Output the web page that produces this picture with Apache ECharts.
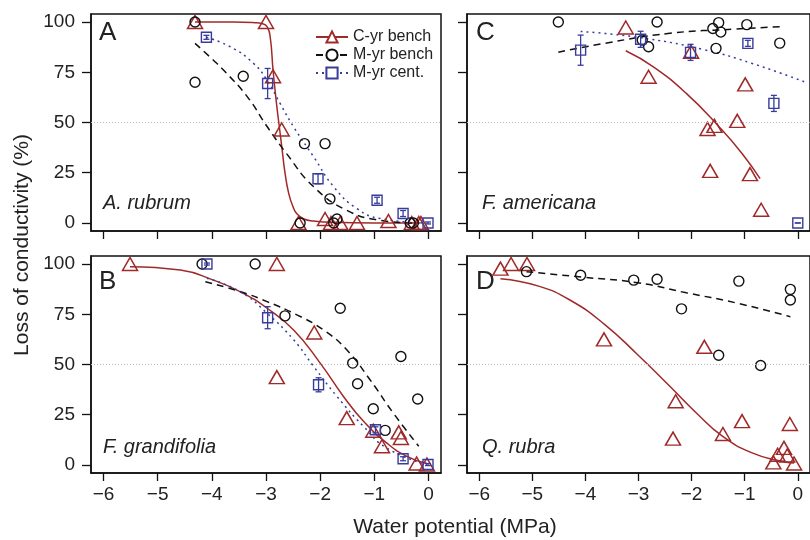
<!DOCTYPE html>
<html>
<head>
<meta charset="utf-8">
<script src="https://cdn.jsdelivr.net/npm/echarts@6/dist/echarts.min.js"></script>
<style>
  html, body { margin: 0; padding: 0; background: #fff; }
  #chart { width: 810px; height: 540px; }
</style>
</head>
<body>
<div id="chart"></div>
<script>
// tick positions
var xTicks = [-6, -5, -4, -3, -2, -1, 0];
var yTicks = [0, 25, 50, 75, 100];

// panel A - A. rubrum
var aCyrPts = [[-4.31, 100], [-3.00, 100], [-2.87, 73], [-2.71, 46.5], [-2.40, 0], [-1.91, 2], [-1.80, 0],
    [-1.63, 0], [-1.32, 0], [-0.74, 1], [-0.31, 0], [-0.18, 0], [-0.14, 0]];
var aMyrPts = [[-4.31, 100], [-4.31, 70], [-3.42, 73], [-2.29, 39.5], [-1.91, 39.5], [-1.82, 12], [-1.69, 2],
    [-2.37, 0], [-1.75, 0], [-0.34, 0], [-0.28, 0]];
var aCentPts = [[-4.10, 92.4, 1], [-2.97, 69.4, 7.5], [-2.04, 22, 2.5], [-0.95, 11.3, 1.5], [-0.47, 4.7, 1.5], [-0.01, 0, 0.5]];
var aCyrFit = [[-4.31, 100], [-3.6, 100], [-3.2, 99.7], [-3.08, 99.3], [-2.98, 97.7], [-2.92, 92], [-2.87, 76],
    [-2.8, 58], [-2.75, 47], [-2.7, 36], [-2.65, 25], [-2.58, 14.6], [-2.5, 8], [-2.43, 4.6], [-2.3, 2],
    [-2.12, 1], [-1.8, 0.3], [-1.0, 0], [-0.15, 0]];
var aMyrFit = [[-4.31, 89.4], [-3.97, 81], [-3.78, 76], [-3.35, 63], [-2.98, 48], [-2.62, 34.5], [-2.12, 18],
    [-1.51, 6.3], [-0.89, 1.3], [-0.28, 0]];
var aCentFit = [[-4.10, 92.4], [-3.66, 87.7], [-3.23, 79.4], [-2.98, 71], [-2.74, 59.5], [-2.49, 47.8],
    [-2.12, 32.9], [-1.75, 18], [-1.32, 7.1], [-0.89, 2.2], [-0.03, 0]];

// panel B - F. grandifolia
var bCyrPts = [[-5.51, 100], [-2.80, 100], [-2.80, 43.7], [-2.11, 65.9], [-1.51, 23.3], [-1.02, 17], [-0.86, 9.3],
    [-0.55, 16.2], [-0.51, 13.4], [-0.22, 0.7], [-0.03, 0.2]];
var bMyrPts = [[-4.18, 100], [-3.20, 100], [-2.65, 74.2], [-1.63, 78], [-1.40, 50.7], [-1.31, 40.4], [-1.02, 28],
    [-0.80, 17.2], [-0.51, 54], [-0.20, 32.8]];
var bCentPts = [[-4.09, 100, 0.5], [-2.97, 73.3, 5.5], [-2.03, 39.9, 3.5], [-0.98, 17.5, 1.5], [-0.47, 3.1, 1], [-0.01, 0.2, 0.5]];
var bCyrFit = [[-5.51, 98.7], [-4.58, 97], [-3.97, 92], [-3.48, 86.3], [-2.98, 78], [-2.49, 67.2], [-2.0, 50.7],
    [-1.57, 34.1], [-1.2, 21.7], [-0.77, 10.9], [-0.40, 4.3], [-0.03, 0.7]];
var bMyrFit = [[-4.12, 91.2], [-3.48, 86.3], [-2.98, 81.3], [-2.43, 74.7], [-1.94, 67.2], [-1.51, 57.3],
    [-1.08, 42.4], [-0.65, 25.8], [-0.18, 9.3]];
var bCentFit = [[-4.09, 92.9], [-3.48, 86.3], [-2.98, 75.5], [-2.49, 62.3], [-2.12, 49], [-1.69, 34.1],
    [-1.2, 19.2], [-0.77, 8.4], [-0.03, 0.2]];

// panel C - F. americana
var cCyrPts = [[-3.24, 97.3], [-2.81, 72.8], [-2.01, 85.2], [-0.99, 69], [-1.14, 50.8], [-1.70, 46.8], [-1.57, 48.3],
    [-1.65, 25.9], [-0.90, 24.3], [-0.69, 6.6]];
var cMyrPts = [[-4.51, 100], [-2.65, 100], [-2.81, 87.7], [-2.93, 91], [-1.60, 96.8], [-1.49, 99.7], [-1.45, 95],
    [-1.54, 86.9], [-0.96, 98.7], [-0.34, 89.5]];
var cCentPts = [[-4.09, 86, 7.5], [-2.96, 91.4, 4], [-2.02, 84.9, 4], [-0.94, 89.4, 1.5], [-0.45, 59.5, 4], [0, 0, 0]];
var cCyrFit = [[-3.24, 85.7], [-2.72, 77.7], [-2.10, 64.5], [-1.48, 47.8], [-1.05, 34.6], [-0.71, 22.1]];
var cMyrFit = [[-4.51, 85], [-3.64, 89.4], [-2.41, 94.4], [-1.17, 96.5], [-0.34, 97.7]];
var cCentFit = [[-4.09, 95.3], [-3.02, 92.4], [-1.79, 86.4], [-0.86, 79.4], [0.12, 70.3]];

// panel D - Q. rubra
var dCyrPts = [[-5.60, 97.7], [-5.40, 100], [-5.10, 100], [-3.65, 62.5], [-2.30, 31.7], [-2.35, 13.1], [-1.76, 58.8],
    [-1.41, 15.4], [-1.05, 21.8], [-0.15, 20.4], [-0.46, 1.3], [-0.38, 5.1], [-0.26, 8.5], [-0.20, 4.7], [-0.07, 0.7]];
var dMyrPts = [[-5.11, 96.2], [-4.09, 94.4], [-3.09, 92], [-2.65, 92.4], [-2.19, 77.7], [-1.49, 54.6], [-1.11, 91.5],
    [-0.70, 49.5], [-0.14, 87.4], [-0.14, 82.1]];
var dCyrFit = [[-5.60, 92.7], [-4.88, 89], [-4.26, 81.6], [-3.64, 70], [-3.02, 55], [-2.41, 39.2], [-1.91, 25.9],
    [-1.42, 14.3], [-0.86, 6], [-0.31, 1.8], [-0.07, 1]];
var dMyrFit = [[-5.11, 96.2], [-4.07, 93.5], [-3.02, 90.7], [-2.1, 85.7], [-1.17, 80.7], [-0.14, 73.8]];

var RED = '#a02a2a';
var BLUE = '#383c9c';
var BLACK = '#111';
var FONT = 'Liberation Sans, Arial, sans-serif';

var chart = echarts.init(document.getElementById('chart'));

var grids = [
    {left: 91, top: 14, width: 350, height: 217},   // A
    {left: 467, top: 14, width: 350, height: 217},  // C
    {left: 91, top: 256, width: 350, height: 217},  // B
    {left: 467, top: 256, width: 350, height: 217}  // D
];

var minus = function (v) {
    return String(v).replace('-', '\u2212');
};

var xAxes = [], yAxes = [];
grids.forEach(function (g, i) {
    g.show = true;
    g.borderColor = BLACK;
    g.borderWidth = 1.5;
    g.backgroundColor = 'transparent';
    xAxes.push({
        type: 'value', gridIndex: i, min: -6.23, max: 0.23,
        axisLine: {show: true, onZero: false, lineStyle: {color: BLACK, width: 1.5}},
        axisTick: {show: true, length: 8, customValues: xTicks, lineStyle: {color: BLACK, width: 1.3}},
        axisLabel: {show: i >= 2, customValues: xTicks, margin: 12, fontSize: 19, color: '#222',
            fontFamily: FONT, formatter: minus},
        splitLine: {show: false}
    });
    yAxes.push({
        type: 'value', gridIndex: i, min: -4, max: 104,
        axisLine: {show: true, onZero: false, lineStyle: {color: BLACK, width: 1.5}},
        axisTick: {show: true, length: 9, customValues: yTicks, lineStyle: {color: BLACK, width: 1.3}},
        axisLabel: {show: i % 2 === 0, customValues: yTicks, margin: 16, fontSize: 19, color: '#222',
            fontFamily: FONT},
        splitLine: {show: false}
    });
});

var halfLine = {
    silent: true, symbol: 'none', label: {show: false},
    lineStyle: {color: '#bbb', type: [1, 2], width: 1},
    data: [{yAxis: 50}]
};

var triStyle = {color: 'rgba(255,255,255,0)', borderColor: RED, borderWidth: 1.5, opacity: 1};
var circStyle = {color: 'rgba(255,255,255,0)', borderColor: BLACK, borderWidth: 1.4, opacity: 1};

var fitLine = function (name, idx, data, color, type, symbol) {
    return {
        name: name, type: 'line', xAxisIndex: idx, yAxisIndex: idx, data: data,
        smooth: 0.5, showSymbol: false, symbol: symbol, symbolSize: 10,
        silent: true, z: 3,
        itemStyle: {color: '#fff', borderColor: color, borderWidth: 1.4},
        lineStyle: {color: color, width: 1.5, type: type}
    };
};

var triPts = function (idx, data) {
    return {
        type: 'scatter', xAxisIndex: idx, yAxisIndex: idx, data: data, symbol: 'triangle',
        symbolSize: [15, 13], itemStyle: triStyle, z: 4, markLine: halfLine
    };
};

var circPts = function (idx, data) {
    return {
        type: 'scatter', xAxisIndex: idx, yAxisIndex: idx, data: data, symbol: 'circle',
        symbolSize: 10, itemStyle: circStyle, z: 4
    };
};

// squares with error bars
var centPts = function (idx, data) {
    return {
        type: 'custom', xAxisIndex: idx, yAxisIndex: idx, data: data, z: 5,
        renderItem: function (params, api) {
            var x = api.value(0), y = api.value(1), e = api.value(2);
            var c = api.coord([x, y]);
            var lo = api.coord([x, y - e]);
            var hi = api.coord([x, y + e]);
            var st = {stroke: BLUE, lineWidth: 1.3, fill: null};
            return {
                type: 'group',
                children: [
                    {type: 'rect', shape: {x: c[0] - 5, y: c[1] - 5, width: 10, height: 10},
                        style: {stroke: BLUE, lineWidth: 1.4, fill: 'rgba(255,255,255,0)'}},
                    {type: 'line', shape: {x1: c[0], y1: lo[1], x2: c[0], y2: hi[1]}, style: st},
                    {type: 'line', shape: {x1: c[0] - 3, y1: lo[1], x2: c[0] + 3, y2: lo[1]}, style: st},
                    {type: 'line', shape: {x1: c[0] - 3, y1: hi[1], x2: c[0] + 3, y2: hi[1]}, style: st}
                ]
            };
        }
    };
};

var series = [
    // A
    triPts(0, aCyrPts), circPts(0, aMyrPts), centPts(0, aCentPts),
    fitLine('C-yr bench', 0, aCyrFit, RED, 'solid', 'triangle'),
    fitLine('M-yr bench', 0, aMyrFit, BLACK, [7, 5], 'circle'),
    fitLine('M-yr cent.', 0, aCentFit, BLUE, [2, 4], 'rect'),
    // C
    triPts(1, cCyrPts), circPts(1, cMyrPts), centPts(1, cCentPts),
    fitLine('c1', 1, cCyrFit, RED, 'solid', 'none'),
    fitLine('c2', 1, cMyrFit, BLACK, [7, 5], 'none'),
    fitLine('c3', 1, cCentFit, BLUE, [2, 4], 'none'),
    // B
    triPts(2, bCyrPts), circPts(2, bMyrPts), centPts(2, bCentPts),
    fitLine('b1', 2, bCyrFit, RED, 'solid', 'none'),
    fitLine('b2', 2, bMyrFit, BLACK, [7, 5], 'none'),
    fitLine('b3', 2, bCentFit, BLUE, [2, 4], 'none'),
    // D
    triPts(3, dCyrPts), circPts(3, dMyrPts),
    fitLine('d1', 3, dCyrFit, RED, 'solid', 'none'),
    fitLine('d2', 3, dMyrFit, BLACK, [7, 5], 'none')
];

// text placed by its vertical middle
var txt = function (x, y, s, size, italic) {
    return {
        type: 'text', x: x, y: y, silent: true,
        style: {text: s, fill: '#222', font: (italic ? 'italic ' : '') + size + 'px ' + FONT,
            verticalAlign: 'middle'}
    };
};

var option = {
    animation: false,
    backgroundColor: '#fff',
    grid: grids,
    xAxis: xAxes,
    yAxis: yAxes,
    legend: {
        data: ['C-yr bench', 'M-yr bench', 'M-yr cent.'],
        orient: 'vertical', left: 310, top: 24, itemGap: 2,
        itemWidth: 32, itemHeight: 14, selectedMode: false,
        textStyle: {fontSize: 16, color: '#222', fontFamily: FONT}
    },
    graphic: [
        txt(99, 33, 'A', 26), txt(476, 33, 'C', 26),
        txt(99, 282, 'B', 26), txt(476, 282, 'D', 26),
        txt(103, 203, 'A. rubrum', 20, true), txt(482, 203, 'F. americana', 20, true),
        txt(103, 447, 'F. grandifolia', 20, true), txt(482, 447, 'Q. rubra', 20, true),
        {type: 'text', x: 22, y: 245, rotation: Math.PI / 2, silent: true,
            style: {text: 'Loss of conductivity (%)', fill: '#222', font: '21px ' + FONT,
                align: 'center', verticalAlign: 'middle'}},
        {type: 'text', x: 455, y: 527, silent: true,
            style: {text: 'Water potential (MPa)', fill: '#222', font: '21px ' + FONT,
                align: 'center', verticalAlign: 'middle'}}
    ],
    series: series
};

chart.setOption(option);
</script>
</body>
</html>
